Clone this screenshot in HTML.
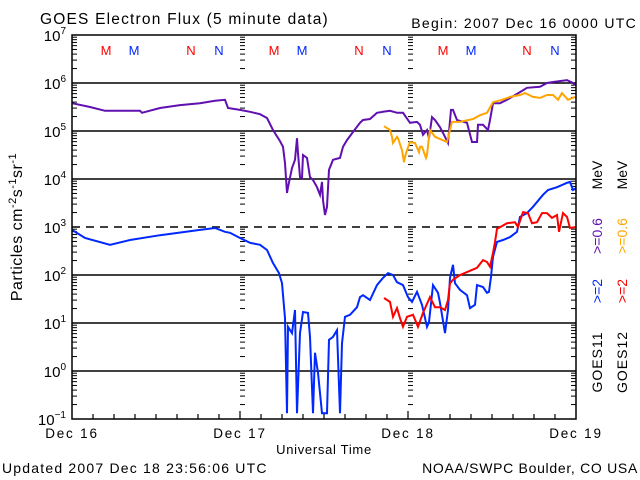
<!DOCTYPE html>
<html><head><meta charset="utf-8"><style>
body{margin:0;background:#fff}
svg{display:block;font-family:"Liberation Sans",sans-serif}
</style></head><body>
<svg id="chart" width="640" height="480" viewBox="0 0 640 480">
<rect width="640" height="480" fill="#fff"/>
<text x="40" y="24" font-size="15.5" letter-spacing="1.2">GOES Electron Flux (5 minute data)</text>
<text x="637" y="28" font-size="14" letter-spacing="1.3" text-anchor="end">Begin: 2007 Dec 16 0000 UTC</text>
<g id="grid"></g>
<g id="ticks"></g>
<g id="series"></g>
<rect x="72" y="35" width="504" height="384" fill="none" stroke="#000" stroke-width="1.5"/>
<g id="labels"></g>
<text transform="translate(22,227) rotate(-90)" font-size="16" letter-spacing="0.5" text-anchor="middle">Particles cm<tspan dy="-6" font-size="11">-2</tspan><tspan dy="6">s</tspan><tspan dy="-6" font-size="11">-1</tspan><tspan dy="6">sr</tspan><tspan dy="-6" font-size="11">-1</tspan></text>
<text x="324" y="454" font-size="13" letter-spacing="0.7" text-anchor="middle">Universal Time</text>
<text x="2" y="473" font-size="14" letter-spacing="1.2">Updated 2007 Dec 18 23:56:06 UTC</text>
<text x="638" y="473" font-size="14" letter-spacing="0.7" text-anchor="end">NOAA/SWPC Boulder, CO USA</text>
<g font-size="14">
<text transform="translate(602,362) rotate(-90)" text-anchor="middle" letter-spacing="1">GOES11</text>
<text transform="translate(602,291) rotate(-90)" text-anchor="middle" fill="#0028ff">&gt;=2</text>
<text transform="translate(602,236) rotate(-90)" text-anchor="middle" fill="#6010b0">&gt;=0.6</text>
<text transform="translate(602,175) rotate(-90)" text-anchor="middle">MeV</text>
<text transform="translate(627,362) rotate(-90)" text-anchor="middle" letter-spacing="1">GOES12</text>
<text transform="translate(627,291) rotate(-90)" text-anchor="middle" fill="#ff0000">&gt;=2</text>
<text transform="translate(627,236) rotate(-90)" text-anchor="middle" fill="#ffa500">&gt;=0.6</text>
<text transform="translate(627,175) rotate(-90)" text-anchor="middle">MeV</text>
</g>
</svg>
<script>
// hours since Dec 16 00:00 UTC, and log10 flux
const purpleHours=[0,2.57,4.71,9.71,10,12.57,15.43,18.29,20.43,21.86,22.29,24,25.43,26.86,27.86,28.71,29.71,30.14,30.43,30.71,30.86,31.43,31.86,32.14,32.29,32.57,32.86,33,33.57,34,34.43,35,35.43,35.71,35.86,36.14,36.43,36.71,37.29,38.29,38.71,39.29,40.14,41.14,41.57,42.57,43.57,44.43,45.43,46.43,47.29,48.29,49.29,49.71,50.14,50.71,51,51.43,51.86,52.57,53.29,53.71,54.14,54.43,55,55.43,56.43,57.14,57.86,58,58.71,59.43,59.71,60.14,61.14,62.14,64,65,66.86,67.86,68.71,70.71,71.57,71.86];
const purpleLog=[5.58,5.5,5.42,5.42,5.38,5.48,5.54,5.58,5.63,5.65,5.48,5.44,5.4,5.35,5.27,5.02,4.79,4.67,4.33,3.71,3.83,4.23,4.4,4.85,4.54,4.04,4.02,4.5,4.44,4.04,3.98,3.83,3.67,3.94,3.56,3.25,3.42,4.19,4.4,4.44,4.67,4.81,4.98,5.17,5.23,5.25,5.38,5.4,5.42,5.38,5.38,5.17,5.19,5.13,4.92,5.02,4.85,5.29,5.23,5.08,4.88,4.75,5.44,5.44,5.23,5.21,5.17,4.77,4.77,5.13,5.13,5.02,5.23,5.58,5.58,5.65,5.81,5.9,5.92,6.0,6.02,6.06,6.0,5.96];
const orangeHours=[44.57,45.43,45.71,45.86,46.43,46.57,47.14,47.43,47.57,47.86,48.29,49,49.57,49.71,50,50.57,50.71,51,51.14,51.86,53.57,54.29,55.43,57.29,58.29,59.29,60.14,61.43,62.57,64,64.71,65.86,66.86,67.86,68.71,69.43,70,70.86,71.86];
const orangeLog=[5.1,5.02,4.88,4.75,4.88,4.85,4.6,4.35,4.46,4.6,4.77,4.75,4.56,4.67,4.67,4.44,4.5,4.88,5.02,4.88,4.77,5.19,5.19,5.25,5.33,5.38,5.6,5.65,5.71,5.75,5.79,5.71,5.69,5.75,5.75,5.65,5.79,5.65,5.71];
const blueHours=[0,1.86,5.43,8.29,12.57,18.29,20.43,21.86,22.57,24,25.43,26.86,27.86,28.71,29.57,30,30.43,30.71,30.86,31.43,31.86,32.14,32.57,33,33.71,34,34.43,34.71,35.14,35.71,36.43,36.71,37.29,37.86,38.29,38.57,39,39.71,40.71,41.14,41.57,42.57,43.57,44.43,45.14,45.86,46.43,47.29,48,48.57,49.29,50,50.71,51,51.57,52.29,52.57,53.29,53.71,54,54.43,54.71,55.43,56.43,56.86,57.57,57.86,58.71,59.29,59.57,59.86,60.14,60.71,61.57,62.57,63.57,64,65,65.86,67.29,68,69.29,70.71,71.14,71.57,72];
const blueLog=[2.94,2.77,2.63,2.73,2.83,2.94,2.98,2.9,2.88,2.77,2.67,2.63,2.52,2.25,2.04,1.83,1.1,-0.88,0.92,0.79,1.27,-0.88,0.79,1.23,1.21,0.71,-0.88,0.38,-0.04,-0.88,-0.88,0.65,0.71,0.85,-0.88,0.58,1.13,1.17,1.33,1.54,1.58,1.48,1.79,1.94,2.04,2.0,1.85,1.79,1.54,1.44,1.65,1.38,0.92,1.02,1.79,1.63,1.42,0.79,1.27,1.94,2.21,1.83,1.69,1.58,1.31,1.38,1.79,1.75,1.63,1.65,1.96,2.38,2.69,2.73,2.79,2.9,3.21,3.29,3.42,3.67,3.77,3.83,3.92,3.94,3.77,3.81];
const redHours=[44.57,45.43,45.86,46.43,46.86,47.29,47.86,48.71,49.43,50.14,51.14,51.86,52.57,53.29,53.71,54,54.43,55.43,56.43,57.86,58.71,59.29,59.71,60.14,60.43,60.71,62.14,63.29,63.71,64.43,65.14,65.71,66.43,67.14,67.86,68.57,69.29,69.57,70.14,70.71,71.14,72];
const redLog=[1.52,1.44,1.13,1.31,1.1,0.92,1.13,1.17,0.92,1.21,1.54,1.33,1.33,1.27,1.48,1.83,1.9,2.0,2.06,2.15,2.31,2.27,2.17,2.46,2.69,2.96,3.08,3.1,3.0,3.31,3.29,3.08,3.1,3.29,3.29,3.19,3.25,2.9,3.29,3.21,2.98,3.0];
const yTicks=[7,6,5,4,3,2,1,0,-1];
const dayLabels=["Dec 16","Dec 17","Dec 18","Dec 19"];
const markerText=["M","M","N","N","M","M","N","N","M","M","N","N"];
const markerHours=[4.86,8.86,17,21,28.86,32.86,41,45,53,57,65,69];
const markerColor=["#ff0000","#0028ff","#ff0000","#0028ff","#ff0000","#0028ff","#ff0000","#0028ff","#ff0000","#0028ff","#ff0000","#0028ff"];

const NS="http://www.w3.org/2000/svg";
const X0=72,X1=576,Y0=35,Y1=419,LMAX=7,LMIN=-1;
const xs=h=>X0+h*(X1-X0)/72;
const ys=l=>Y0+(LMAX-l)*(Y1-Y0)/(LMAX-LMIN);
function mk(tag,parent,attrs){const e=document.createElementNS(NS,tag);for(const k in attrs)e.setAttribute(k,attrs[k]);parent.appendChild(e);return e;}
const grid=document.getElementById('grid'),ticks=document.getElementById('ticks'),labels=document.getElementById('labels'),series=document.getElementById('series');
yTicks.forEach(l=>{
  const y=ys(l);
  if(l<LMAX&&l>LMIN){
    const g=mk('line',grid,{x1:X0,x2:X1,y1:y,y2:y,stroke:'#000','stroke-width':1.5});
    if(l===3)g.setAttribute('stroke-dasharray','8,6');
    
    
  }
  const t=mk('text',labels,{x:66,y:y+6,'text-anchor':'end','font-size':15});
  
  
  t.textContent='10';
  const s=mk('tspan',t,{dy:-7,'font-size':10});s.textContent=String(l).replace('-','\u2212');
  if(l>LMIN){
    for(let m=2;m<=9;m++){
      const yy=ys(l-1+Math.log10(m));
      [X0,X1-5,240,408].forEach(xx=>{
        const tk=mk('line',ticks,{x1:xx,x2:xx+5,y1:yy,y2:yy,stroke:'#000','stroke-width':1});
        
        
      });
    }
  }
});
for(let h=3;h<72;h+=3){
  const x=xs(h);
  const tk=mk('line',ticks,{x1:x,x2:x,y1:Y1,y2:Y1-(h%24===0?8:5),stroke:'#000','stroke-width':1.2});
  
  
}
dayLabels.forEach((d,i)=>{
  const t=mk('text',labels,{x:xs(i*24),y:438,'text-anchor':'middle','font-size':13.5,'letter-spacing':1.8});
  
  
  t.textContent=d;
});
markerText.forEach((m,i)=>{
  const t=mk('text',labels,{x:xs(markerHours[i]),y:55,'text-anchor':'middle','font-size':13,fill:markerColor[i]});
  
  
  t.textContent=m;
});
function draw(hs,ls,color,name){
  const pts=hs.map((h,i)=>xs(h).toFixed(1)+','+ys(ls[i]).toFixed(1)).join(' ');
  const p=mk('polyline',series,{points:pts,fill:'none',stroke:color,'stroke-width':2,'stroke-linejoin':'miter'});
  
  
}
draw(purpleHours,purpleLog,'#6010b0','series-goes11-06mev');
draw(blueHours,blueLog,'#0028ff','series-goes11-2mev');
draw(orangeHours,orangeLog,'#ffa500','series-goes12-06mev');
draw(redHours,redLog,'#ff0000','series-goes12-2mev');
</script>
</body></html>
